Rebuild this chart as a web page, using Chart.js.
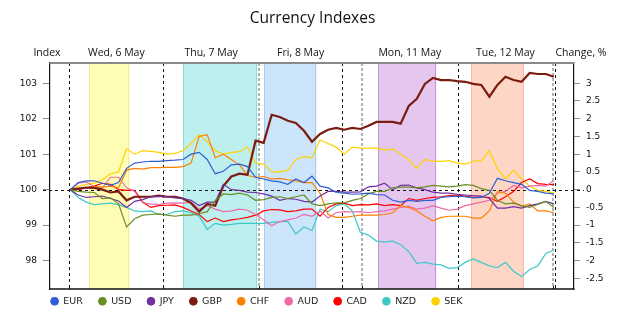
<!DOCTYPE html>
<html>
<head>
<meta charset="utf-8">
<script src="https://cdn.jsdelivr.net/npm/chart.js@4.4.1/dist/chart.umd.min.js"></script>
<style>
  html, body { margin: 0; padding: 0; background: #fff; }
  canvas { display: block; }
</style>
</head>
<body>
<canvas id="grafico" width="625" height="315"></canvas>
<script>
// ---- datos (indice, base 100) ----
const currencies = ['EUR', 'USD', 'JPY', 'GBP', 'CHF', 'AUD', 'CAD', 'NZD', 'SEK'];
const colors = ['#2f5fd3', '#6b8e23', '#7030a0', '#7b1c10', '#ff7f00', '#ee6aa7', '#ff0000', '#3ec9c6', '#ffd200'];

// horas desde el inicio del eje (un punto cada 2 horas)
const hours = [5, 7, 9, 11, 13, 15, 17, 19, 21, 23, 25, 27, 29, 31, 33, 35, 37, 39, 41, 43,
  45, 47, 49, 51, 53, 55, 57, 59, 61, 63, 65, 67, 69, 71, 73, 75, 77, 79, 81, 83,
  85, 87, 89, 91, 93, 95, 97, 99, 101, 103, 105, 107, 109, 111, 113, 115, 117, 119, 121, 123, 125];

const eur = [100, 100.2, 100.25, 100.25, 100.18, 100.12, 100.2, 100.6, 100.75, 100.78,
  100.8, 100.8, 100.82, 100.83, 100.85, 101, 101.05, 100.85, 100.45, 100.52,
  100.7, 100.72, 100.65, 100.35, 100.3, 100.25, 100.22, 100.15, 100.3, 100.2,
  100.38, 100.1, 100.05, 99.92, 99.9, 99.87, 99.88, 99.9, 99.86, 99.85,
  99.7, 99.65, 99.7, 99.67, 99.7, 99.7, 99.78, 99.8, 99.82, 99.8,
  99.77, 99.78, 99.9, 100.32, 100.25, 100.2, 100.15, 99.98, 99.95, 99.9, 99.88];
const usd = [100, 99.95, 99.93, 99.92, 99.75, 99.77, 99.6, 98.95, 99.18, 99.28,
  99.3, 99.32, 99.28, 99.25, 99.28, 99.28, 99.32, 99.38, 99.7, 99.88,
  99.86, 99.9, 99.85, 99.7, 99.72, 99.78, 99.8, 99.75, 99.8, 99.85,
  99.6, 99.55, 99.6, 99.63, 99.63, 99.7, 99.75, 99.88, 99.95, 99.95,
  100.05, 100.07, 100.07, 100.05, 100.08, 100.12, 100.1, 100.08, 100.1, 100.14,
  100.12, 100.03, 99.98, 99.7, 99.6, 99.62, 99.55, 99.5, 99.58, 99.67, 99.5];
const jpy = [100, 99.85, 99.78, 99.8, 99.82, 99.75, 99.68, 99.5, 99.67, 99.72,
  99.8, 99.81, 99.8, 99.77, 99.75, 99.7, 99.55, 99.65, 99.65, 100.15,
  100, 99.98, 99.93, 99.92, 99.88, 99.82, 99.7, 99.75, 99.73, 99.67,
  99.65, 99.82, 99.95, 99.95, 99.93, 99.93, 99.94, 100.08, 100.1, 100.18,
  100, 100.12, 100.13, 100.05, 100, 99.93, 99.9, 99.9, 99.87, 99.85,
  99.83, 99.82, 99.75, 99.48, 99.48, 99.52, 99.48, 99.55, 99.6, 99.67, 99.6];
const gbp = [100, 100.03, 100.06, 100.05, 100, 99.92, 99.95, 99.7, 99.8, 99.8,
  99.8, 99.83, 99.8, 99.8, 99.75, 99.62, 99.38, 99.6, 99.55, 100.1,
  100.37, 100.45, 100.42, 101.38, 101.32, 102.11, 102.05, 101.94, 101.88, 101.66,
  101.35, 101.57, 101.69, 101.74, 101.69, 101.74, 101.71, 101.8, 101.91, 101.91,
  101.91, 101.86, 102.36, 102.56, 102.98, 103.15, 103.09, 103.09, 103.06, 103.04,
  102.98, 102.95, 102.62, 102.95, 103.18, 103.09, 103.04, 103.29, 103.26, 103.26, 103.18];
const chf = [100, 100.03, 100.06, 100.08, 100.07, 100.1, 100.05, 100.55, 100.6, 100.58,
  100.62, 100.62, 100.63, 100.63, 100.65, 100.75, 101.5, 101.55, 100.9, 101,
  100.85, 100.7, 100.4, 100.35, 100.37, 100.3, 100.32, 100.28, 100.25, 100.2,
  100.2, 99.9, 99.3, 99.22, 99.22, 99.25, 99.28, 99.28, 99.28, 99.3,
  99.35, 99.55, 99.5, 99.4, 99.25, 99.12, 99.22, 99.25, 99.25, 99.25,
  99.2, 99.2, 99.4, 99.95, 99.9, 99.65, 99.53, 99.6, 99.4, 99.4, 99.35];
const aud = [100, 100.18, 100.22, 100.08, 100.05, 100.35, 100.35, 100.05, 99.95, 99.63,
  99.6, 99.58, 99.62, 99.63, 99.62, 99.65, 99.45, 99.55, 99.45, 99.38,
  99.4, 99.45, 99.42, 99.3, 99.15, 98.98, 99.1, 99.15, 99.2, 99.3,
  99.25, 99.4, 99.2, 99.35, 99.38, 99.37, 99.38, 99.35, 99.38, 99.4,
  99.45, 99.5, 99.53, 99.45, 99.48, 99.55, 99.48, 99.42, 99.45, 99.55,
  99.6, 99.65, 99.7, 99.9, 99.95, 100.12, 100.05, 100.1, 100.12, 100.1, 100.25];
const cad = [100, 100, 100.05, 100.1, 100.18, 100.15, 100, 99.98, 99.98, 99.65,
  99.5, 99.55, 99.56, 99.57, 99.5, 99.4, 99.3, 99.1, 99.2, 99.1,
  99.15, 99.18, 99.22, 99.28, 99.4, 99.44, 99.43, 99.38, 99.4, 99.45,
  99.45, 99.25, 99.5, 99.6, 99.62, 99.55, 99.58, 99.57, 99.6, 99.55,
  99.58, 99.55, 99.75, 99.7, 99.75, 99.78, 99.8, 99.83, 99.85, 99.82,
  99.78, 99.8, 99.78, 99.67, 99.8, 99.95, 100.2, 100.3, 100.17, 100.15, 100.14];
const nzd = [100, 99.78, 99.65, 99.58, 99.6, 99.62, 99.58, 99.5, 99.4, 99.38,
  99.4, 99.3, 99.3, 99.38, 99.4, 99.35, 99.25, 98.88, 99.05, 99,
  99.02, 99.05, 99.05, 99.05, 99.05, 99.08, 99.1, 99.1, 98.75, 98.95,
  98.85, 99.45, 99.38, 99.55, 99.6, 99.4, 98.8, 98.72, 98.55, 98.52,
  98.55, 98.45, 98.25, 97.92, 97.95, 97.9, 97.88, 97.78, 97.8, 97.95,
  98.05, 97.95, 97.85, 97.8, 97.95, 97.7, 97.55, 97.75, 97.85, 98.2, 98.3];
const sek = [100, 100.1, 100.15, 100.18, 100.28, 100.45, 100.5, 101.15, 101, 101.1,
  101.08, 101.05, 101, 101.02, 101.1, 101.3, 101.55, 101.35, 101.1, 101,
  101.05, 101.07, 101.2, 100.75, 100.72, 100.5, 100.5, 100.55, 100.85, 100.93,
  100.9, 101.4, 101.3, 101.2, 101, 101.2, 101.17, 101.17, 101.17, 101.12,
  101.15, 101, 100.85, 100.6, 100.85, 100.8, 100.8, 100.82, 100.75, 100.72,
  100.8, 100.82, 101.1, 100.6, 100.3, 100.55, 100.3, 100.1, 99.98, 99.95, 99.9];
const series = [eur, usd, jpy, gbp, chf, aud, cad, nzd, sek];

// etiquetas de los ejes
const indexTicks = [98, 99, 100, 101, 102, 103];
const changeTicks = [-2.5, -2, -1.5, -1, -0.5, 0, 0.5, 1, 1.5, 2, 2.5, 3];

// dias y sesiones (en horas del eje x)
const dayLabels = ['Wed, 6 May', 'Thu, 7 May', 'Fri, 8 May', 'Mon, 11 May', 'Tue, 12 May'];
const dayRanges = [[4.8, 28.1], [28.1, 51.85], [51.85, 72.5], [77.4, 101.15], [101.15, 124.8]];
const blackLines = [4.8, 28.1, 72.5, 101.15, 125.3];
const greyLines = [51.85, 77.4, 124.8];
const sessions = [[9.75, 19.7], [33.1, 51.4], [53.1, 66.1], [81.45, 95.8], [104.5, 117.5]];
const sessionFill = ['#fffcb6', '#bdefee', '#cce5fa', '#e4c6ee', '#fdd6c6'];
const sessionEdge = ['#f3eb9a', '#8edada', '#a6cff3', '#c592da', '#f5bda7'];

const FONT_TXT = '"Open Sans", sans-serif';
const FONT_NUM = '"DejaVu Sans", sans-serif';

// ---- plugin: sesiones, lineas punteadas, bordes y rotulos ----
const decoracion = {
    id: 'decoracion',
    beforeLayout(chart) {
        // alto fijo para la leyenda
        const lg = chart.legend;
        if (lg && !lg.__fijo) {
            const fit = lg.fit;
            lg.fit = function () { fit.call(this); this.height = 26; };
            lg.__fijo = true;
        }
    },
    afterLayout(chart) {
        const lg = chart.legend;
        lg.top = chart.chartArea.bottom - 8;
        lg.left = 35.1;
    },
    beforeDatasetsDraw(chart) {
        const ctx = chart.ctx;
        const a = chart.chartArea;
        const x = chart.scales.x;
        ctx.save();
        sessions.forEach((s, i) => {
            const x0 = x.getPixelForValue(s[0]);
            const x1 = x.getPixelForValue(s[1]);
            ctx.fillStyle = sessionFill[i];
            ctx.fillRect(x0, a.top, x1 - x0, a.bottom - a.top);
            ctx.strokeStyle = sessionEdge[i];
            ctx.lineWidth = 1;
            ctx.beginPath();
            ctx.moveTo(Math.round(x0) + 0.5, a.top); ctx.lineTo(Math.round(x0) + 0.5, a.bottom);
            ctx.moveTo(Math.round(x1) - 0.5, a.top); ctx.lineTo(Math.round(x1) - 0.5, a.bottom);
            ctx.stroke();
        });
        // lineas grises
        ctx.setLineDash([3, 2]);
        ctx.strokeStyle = '#a0a0a0';
        ctx.lineWidth = 1.6;
        greyLines.forEach(h => {
            const px = Math.round(x.getPixelForValue(h));
            ctx.beginPath(); ctx.moveTo(px, a.top); ctx.lineTo(px, a.bottom); ctx.stroke();
        });
        // lineas negras
        ctx.setLineDash([3, 3]);
        ctx.strokeStyle = '#111';
        ctx.lineWidth = 1;
        blackLines.forEach(h => {
            const px = Math.round(x.getPixelForValue(h)) + 0.5;
            ctx.beginPath(); ctx.moveTo(px, a.top); ctx.lineTo(px, a.bottom); ctx.stroke();
        });
        // linea base 100
        const y0 = Math.round(chart.scales.y.getPixelForValue(100)) + 0.5;
        ctx.beginPath(); ctx.moveTo(a.left - 7, y0); ctx.lineTo(a.right + 10, y0); ctx.stroke();
        ctx.restore();
    },
    afterDraw(chart) {
        const ctx = chart.ctx;
        const a = chart.chartArea;
        const x = chart.scales.x;
        ctx.save();
        // borde superior gris, inferior negro
        ctx.strokeStyle = '#8a8a8a';
        ctx.lineWidth = 2;
        ctx.beginPath(); ctx.moveTo(a.left - 0.5, a.top); ctx.lineTo(a.right + 0.5, a.top); ctx.stroke();
        ctx.strokeStyle = '#111';
        ctx.lineWidth = 1.5;
        ctx.beginPath(); ctx.moveTo(a.left - 0.5, a.bottom); ctx.lineTo(a.right + 0.5, a.bottom); ctx.stroke();
        // marcas pequenas en el eje inferior
        ctx.lineWidth = 1;
        blackLines.concat(greyLines).forEach(h => {
            const px = Math.round(x.getPixelForValue(h)) + 0.5;
            ctx.beginPath(); ctx.moveTo(px, a.bottom); ctx.lineTo(px, a.bottom - 3); ctx.stroke();
        });
        // rotulos de dias
        ctx.fillStyle = '#111';
        ctx.font = '10.5px ' + FONT_TXT;
        ctx.textAlign = 'center';
        ctx.textBaseline = 'middle';
        dayLabels.forEach((t, i) => {
            const cx = (x.getPixelForValue(dayRanges[i][0]) + x.getPixelForValue(dayRanges[i][1])) / 2;
            ctx.fillText(t, cx, 53);
        });
        ctx.fillText('Index', 47, 53);
        ctx.fillText('Change, %', 581, 53);
        ctx.restore();
    }
};

const ctx = document.getElementById('grafico').getContext('2d');
new Chart(ctx, {
    type: 'line',
    data: {
        datasets: currencies.map((name, k) => ({
            label: name,
            data: series[k].map((v, i) => ({ x: hours[i], y: v })),
            borderColor: colors[k],
            backgroundColor: colors[k],
            borderWidth: name === 'GBP' ? 2.2 : 1.2,
            pointRadius: 0,
            tension: 0,
            yAxisID: 'y'
        }))
    },
    options: {
        responsive: false,
        animation: false,
        events: [],
        layout: { padding: 0 },
        scales: {
            x: { type: 'linear', min: 0, max: 130, display: false },
            y: {
                position: 'left',
                min: 97.2,
                max: 103.57,
                afterBuildTicks: axis => { axis.ticks = indexTicks.map(v => ({ value: v })); },
                afterFit: axis => { axis.width = 50; },
                ticks: { color: '#111', font: { family: FONT_NUM, size: 9 }, padding: 6 },
                grid: { drawOnChartArea: false, drawTicks: true, tickLength: 7, color: '#8a8a8a' },
                border: { color: '#111', width: 1.2 }
            },
            y2: {
                position: 'right',
                min: -2.8,
                max: 3.57,
                afterBuildTicks: axis => { axis.ticks = changeTicks.map(v => ({ value: v })); },
                afterFit: axis => { axis.width = 51; },
                ticks: { color: '#111', font: { family: FONT_NUM, size: 9 }, padding: 6, callback: v => String(v) },
                grid: { drawOnChartArea: false, drawTicks: true, tickLength: 6, color: '#8a8a8a' },
                border: { color: '#111', width: 1.2 }
            }
        },
        plugins: {
            title: {
                display: true,
                text: 'Currency Indexes',
                color: '#111',
                font: { family: FONT_TXT, size: 15.5, weight: 'normal' },
                padding: { top: 9, bottom: 35.4 }
            },
            legend: {
                position: 'bottom',
                align: 'start',
                labels: {
                    usePointStyle: true,
                    pointStyle: 'circle',
                    boxWidth: 8,
                    boxHeight: 5.5,
                    padding: 15.5,
                    color: '#222',
                    font: { family: FONT_NUM, size: 9.5 },
                    generateLabels: chart => Chart.defaults.plugins.legend.labels.generateLabels(chart)
                        .map(l => Object.assign(l, { lineWidth: 1 }))
                }
            },
            tooltip: { enabled: false }
        }
    },
    plugins: [decoracion]
});
</script>
</body>
</html>
